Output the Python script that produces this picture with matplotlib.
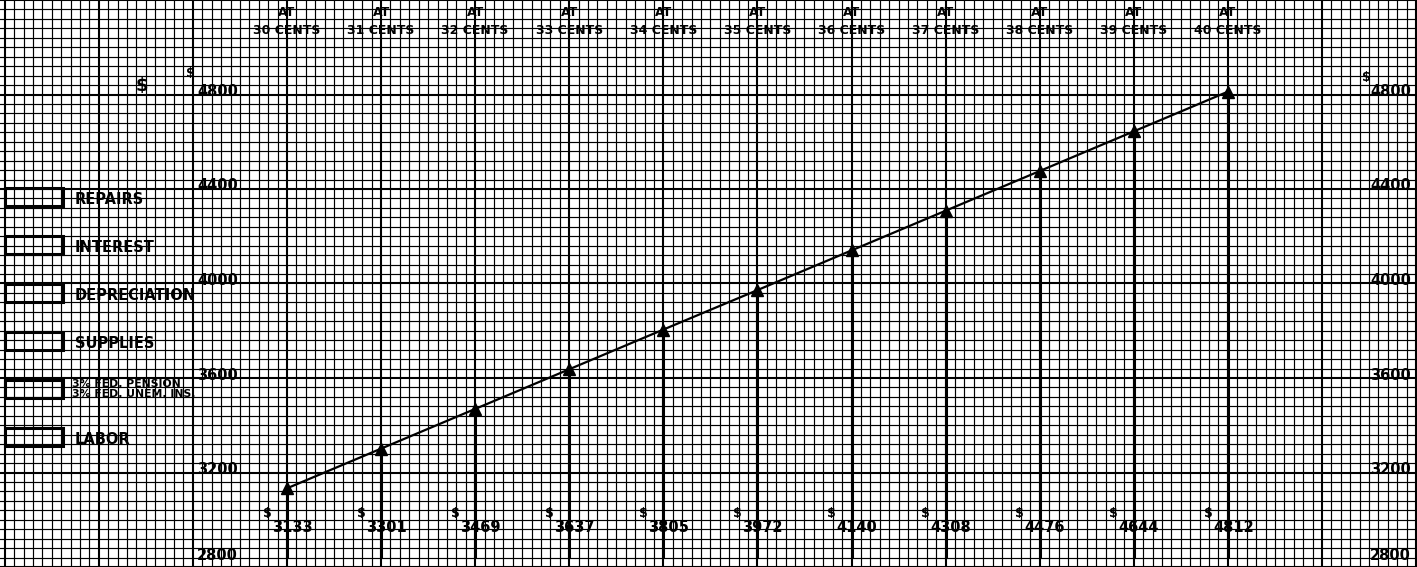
import matplotlib
matplotlib.use("Agg")
import matplotlib.pyplot as plt
import matplotlib.patches as patches
import numpy as np

# hourly rate (cents) and yearly cost ($)
cents = [30, 31, 32, 33, 34, 35, 36, 37, 38, 39, 40]
costs = [3133, 3301, 3469, 3637, 3805, 3972, 4140, 4308, 4476, 4644, 4812]
cost_labels = ["3133", "3301", "3469", "3637", "3805", "3972", "4140", "4308", "4476", "4644", "4812"]
rate_labels = [f"{c} CENTS" for c in cents]

y_ticks = [4800, 4400, 4000, 3600, 3200, 2800]
y_tick_labels = ["4800", "4400", "4000", "3600", "3200", "2800"]

legend_items = ["REPAIRS", "INTEREST", "DEPRECIATION", "SUPPLIES",
                "3% FED. PENSION\n3% FED. UNEM. INS.", "LABOR"]

W, H = 1417, 567


def px(x, y):
    # pixel position -> axes fraction
    return x / W, 1 - y / H


fig = plt.figure(figsize=(W / 100, H / 100), dpi=100)
ax = fig.add_axes([0, 0, 1, 1])
ax.set_xlim(26.95, 42.01)
ax.set_ylim(2837, 5175)

# graph paper
ax.set_xticks(np.arange(27, 43, 1))
ax.set_xticks(np.arange(27, 42.05, 0.1), minor=True)
ax.set_yticks(np.arange(2800, 5201, 400))
ax.set_yticks(np.arange(2800, 5201, 40), minor=True)
ax.grid(which="major", color="black", linewidth=1.5)
ax.grid(which="minor", color="black", linewidth=0.85)
ax.tick_params(which="both", length=0, labelbottom=False, labelleft=False)
for s in ax.spines.values():
    s.set_visible(False)
ax.set_axisbelow(True)

# cost line with arrow stems
ax.vlines(cents, 2837, costs, color="black", linewidth=2.2)
ax.plot(cents, costs, color="black", linewidth=1.6)
ax.plot(cents, costs, linestyle="none", marker="^", markersize=8, color="black")

font = dict(fontweight="bold", color="black", family="DejaVu Sans")

# rate labels along the top
for c, lab in zip(cents, rate_labels):
    ax.text(c, 1 - 12 / H, "AT", transform=ax.get_xaxis_transform(),
            ha="center", va="center", fontsize=9, **font)
    ax.text(c, 1 - 30 / H, lab, transform=ax.get_xaxis_transform(),
            ha="center", va="center", fontsize=9, **font)

# cost values along the bottom
for c, lab in zip(cents, cost_labels):
    ax.annotate("$", (c, 1 - 513 / H), xycoords=ax.get_xaxis_transform(),
                xytext=(-20, 0), textcoords="offset pixels",
                ha="center", va="center", fontsize=9, **font)
    ax.annotate(lab, (c, 1 - 527 / H), xycoords=ax.get_xaxis_transform(),
                xytext=(-15, 0), textcoords="offset pixels",
                ha="left", va="center", fontsize=10.5, **font)

# dollar scales, left and right
for v, lab in zip(y_ticks, y_tick_labels):
    dy = 3 if v > 2800 else 12
    for xp in (197, 1370):
        ax.annotate(lab, (xp / W, v), xycoords=ax.get_yaxis_transform(),
                    xytext=(0, dy), textcoords="offset pixels",
                    ha="left", va="center", fontsize=10.5, **font)
ax.text(*px(190, 74), "$", transform=ax.transAxes, ha="center", va="center", fontsize=9, **font)
ax.text(*px(1366, 78), "$", transform=ax.transAxes, ha="center", va="center", fontsize=9, **font)
ax.text(*px(142, 86), "$", transform=ax.transAxes, ha="center", va="center", fontsize=13, **font)

# legend boxes
for i, item in enumerate(legend_items):
    yc = 197 + i * 48
    x0, y0 = px(5, yc + 9)
    ax.add_patch(patches.Rectangle((x0, y0), 58 / W, 18 / H, transform=ax.transAxes,
                                   fill=False, edgecolor="black", linewidth=2.2))
    if "\n" in item:
        ax.text(*px(72, yc), item, transform=ax.transAxes, ha="left", va="center",
                fontsize=7.8, linespacing=0.95, **font)
    else:
        ax.text(*px(75, yc + 2), item, transform=ax.transAxes, ha="left", va="center",
                fontsize=10.5, **font)

fig.savefig("out.png", dpi=100)
